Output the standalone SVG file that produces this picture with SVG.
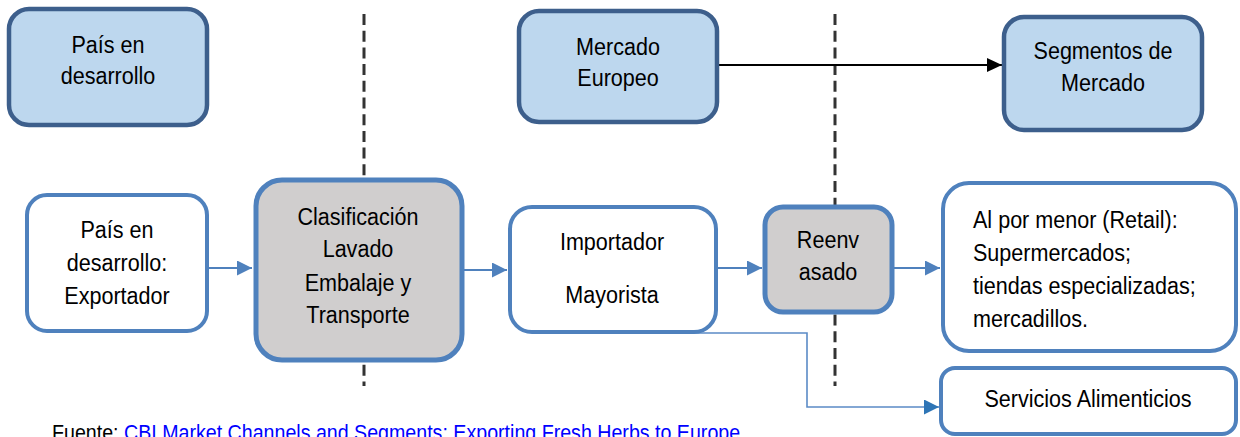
<svg xmlns="http://www.w3.org/2000/svg" width="1240" height="437" viewBox="0 0 1240 437">
<defs>
<style>
.t{font-family:"Liberation Sans",Arial,sans-serif;font-size:24.5px;fill:#000;text-anchor:middle}
.l{text-anchor:start}
.top{fill:#BDD7EE;stroke:#3D5F8C;stroke-width:4.5}
.wb{fill:#FFFFFF;stroke:#4F81BD;stroke-width:4}
.gb{fill:#D0CECE;stroke:#4F81BD;stroke-width:5}
.dash{stroke:#333;stroke-width:3;stroke-dasharray:11 5.7;fill:none}
.c{stroke:#4F81BD;stroke-width:2;fill:none}
.src{font-family:"Liberation Sans",Arial,sans-serif;font-size:22.3px}
</style>
<marker id="ab" markerUnits="userSpaceOnUse" markerWidth="16" markerHeight="16" refX="15" refY="7.5" orient="auto"><path d="M0,0 L15,7.5 L0,15 Z" fill="#4F81BD"/></marker>
<marker id="ab2" markerUnits="userSpaceOnUse" markerWidth="16" markerHeight="16" refX="15" refY="7.5" orient="auto"><path d="M0,0 L15,7.5 L0,15 Z" fill="#2E75B6"/></marker>
<marker id="ak" markerUnits="userSpaceOnUse" markerWidth="16" markerHeight="16" refX="15" refY="7" orient="auto"><path d="M0,0 L15,7 L0,14 Z" fill="#000"/></marker>
</defs>
<rect width="1240" height="437" fill="#FFFFFF"/>
<g id="dividers">
<line class="dash" x1="364" y1="14" x2="364" y2="386"/>
<line class="dash" x1="835" y1="14" x2="835" y2="386"/>
</g>
<g id="connectors">
<line x1="718" y1="65" x2="1002" y2="65" stroke="#000" stroke-width="1.8" marker-end="url(#ak)"/>
<line class="c" x1="208" y1="268" x2="252" y2="268" marker-end="url(#ab)"/>
<line class="c" x1="463" y1="270" x2="507" y2="270" marker-end="url(#ab)"/>
<line class="c" x1="717" y1="268" x2="762" y2="268" marker-end="url(#ab)"/>
<line class="c" x1="893" y1="268" x2="940" y2="268" marker-end="url(#ab)"/>
<polyline points="673,333 807,333 807,407 939,407" stroke="#5B8BC6" stroke-width="1.6" fill="none" marker-end="url(#ab2)"/>
</g>
<g id="node-pais-top">
<rect class="top" x="9" y="9" width="198" height="116" rx="20"/>
<g transform="translate(108 0) scale(0.88 1)"><text class="t" x="0" y="53">País en</text><text class="t" x="0" y="84">desarrollo</text></g>
</g>
<g id="node-mercado-europeo">
<rect class="top" x="519" y="11" width="198" height="111" rx="20"/>
<g transform="translate(618 0) scale(0.88 1)"><text class="t" x="0" y="55">Mercado</text><text class="t" x="0" y="86">Europeo</text></g>
</g>
<g id="node-segmentos">
<rect class="top" x="1004" y="17" width="198" height="113" rx="20"/>
<g transform="translate(1103 0) scale(0.88 1)"><text class="t" x="0" y="59">Segmentos de</text><text class="t" x="0" y="91">Mercado</text></g>
</g>
<g id="node-exportador">
<rect class="wb" x="27" y="195" width="180" height="136" rx="20"/>
<g transform="translate(117 0) scale(0.88 1)"><text class="t" x="0" y="238">País en</text><text class="t" x="0" y="271">desarrollo:</text><text class="t" x="0" y="304">Exportador</text></g>
</g>
<g id="node-clasificacion">
<rect class="gb" x="256" y="180" width="206" height="180" rx="26"/>
<g transform="translate(358 0) scale(0.88 1)"><text class="t" x="0" y="225">Clasificación</text><text class="t" x="0" y="257">Lavado</text><text class="t" x="0" y="291">Embalaje y</text><text class="t" x="0" y="323">Transporte</text></g>
</g>
<g id="node-importador">
<rect class="wb" x="510" y="207" width="206" height="125" rx="22"/>
<g transform="translate(612 0) scale(0.88 1)"><text class="t" x="0" y="250">Importador</text><text class="t" x="0" y="303">Mayorista</text></g>
</g>
<g id="node-reenvasado">
<rect class="gb" x="765" y="207" width="127" height="105" rx="18"/>
<g transform="translate(828 0) scale(0.88 1)"><text class="t" x="0" y="248">Reenv</text><text class="t" x="0" y="280">asado</text></g>
</g>
<g id="node-retail">
<rect class="wb" x="943" y="183" width="293" height="168" rx="26"/>
<g transform="translate(973 0) scale(0.88 1)"><text class="t l" x="0" y="228">Al por menor (Retail):</text><text class="t l" x="0" y="261">Supermercados;</text><text class="t l" x="0" y="294">tiendas especializadas;</text><text class="t l" x="0" y="327">mercadillos.</text></g>
</g>
<g id="node-servicios">
<rect class="wb" x="941" y="368" width="295" height="66" rx="14"/>
<g transform="translate(1088 0) scale(0.88 1)"><text class="t" x="0" y="407">Servicios Alimenticios</text></g>
</g>
<g id="source">
<g transform="translate(52 0) scale(0.88 1)"><text class="src" x="0" y="440"><tspan fill="#000">Fuente: </tspan><tspan fill="#0000FF" text-decoration="underline">CBI Market Channels and Segments: Exporting Fresh Herbs to Europe</tspan></text></g>
</g>
</svg>
